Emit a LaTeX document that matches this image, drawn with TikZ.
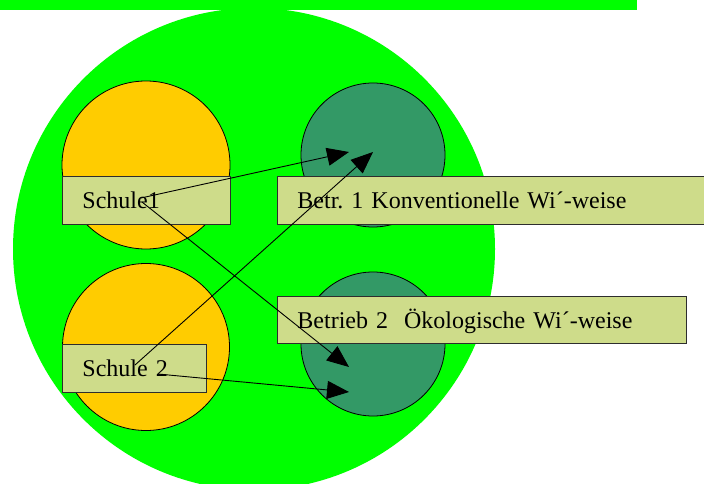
\documentclass[tikz,border=0pt]{standalone}
\usepackage{fontspec}
\setmainfont{Liberation Serif}
\usetikzlibrary{arrows.meta}
\definecolor{brightgreen}{RGB}{0,255,0}
\definecolor{goldy}{RGB}{255,204,0}
\definecolor{seagreen}{RGB}{51,153,102}
\definecolor{boxfill}{RGB}{206,220,138}
\definecolor{boxline}{RGB}{45,45,45}
\begin{document}
\frenchspacing
\begin{tikzpicture}[x=1pt,y=-1pt,
  disc/.style={circle, draw=black, line width=0.8pt, inner sep=0pt},
  labelbox/.style={draw=boxline, fill=boxfill, line width=0.9pt, anchor=north west,
    inner xsep=20pt, inner ysep=0pt, text height=22pt, text depth=5pt, align=left,
    font=\fontsize{24}{28}\selectfont\frenchspacing},
  conn/.style={draw=black, line width=0.9pt, -{Triangle[length=22pt,width=18pt]}}]
\useasboundingbox (0,0) rectangle (704,484);
\clip (0,0) rectangle (704,484);
% background shapes
\node[circle, fill=brightgreen, inner sep=0pt, minimum size=482pt] (big) at (254,249) {};
\fill[brightgreen] (0,0) rectangle (637,10);
\node[disc, fill=goldy, minimum size=168pt] (y1) at (146,165) {};
\node[disc, fill=goldy, minimum size=167pt] (y2) at (146,347) {};
\node[disc, fill=seagreen, minimum size=144pt] (g1) at (373,155) {};
\node[disc, fill=seagreen, minimum size=144pt] (g2) at (373,344) {};
% label boxes
\node[labelbox, minimum width=168pt, text width=128pt, minimum height=48pt] (s1) at (62,176) {Schule1};
\node[labelbox, minimum width=432pt, text width=392pt, minimum height=48pt] (b1) at (277,176) {Betr. 1 Konventionelle Wi´-weise};
\node[labelbox, minimum width=409pt, text width=369pt, minimum height=47pt] (b2) at (277,296) {Betrieb 2\ \ Ökologische Wi´-weise};
\node[labelbox, minimum width=144pt, text width=104pt, minimum height=48pt] (s2) at (62,344) {Schule 2};
% connector end points
\coordinate (a1s) at (141,198);
\coordinate (a1e) at (349,152);
\coordinate (a3s) at (142,202);
\coordinate (a3e) at (349,367);
\coordinate (a2s) at (135,365);
\coordinate (a2e) at (373,152);
\coordinate (a4s) at (158,374);
\coordinate (a4e) at (349,392);
\draw[conn] (a1s) -- (a1e);
\draw[conn] (a3s) -- (a3e);
\draw[conn] (a2s) -- (a2e);
\draw[conn] (a4s) -- (a4e);
\end{tikzpicture}
\end{document}
